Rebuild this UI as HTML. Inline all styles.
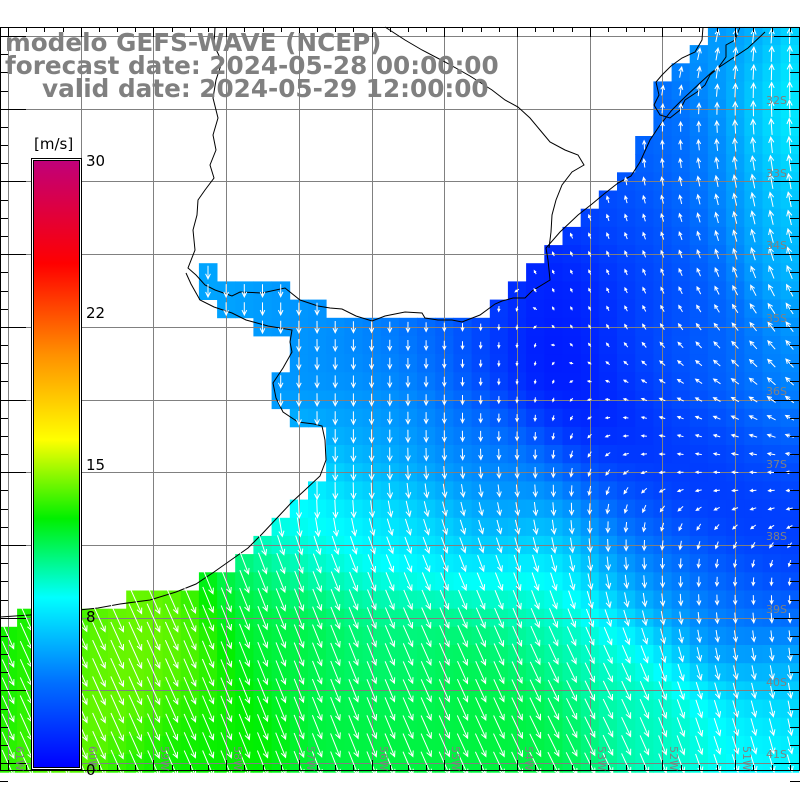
<!DOCTYPE html>
<html><head><meta charset="utf-8">
<style>
html,body{margin:0;padding:0;background:#fff;}
#w{position:relative;width:800px;height:800px;overflow:hidden;}
svg{position:absolute;left:0;top:0;}
</style></head>
<body><div id="w">
<svg id="s" width="800" height="800" xmlns="http://www.w3.org/2000/svg">
<defs>
<linearGradient id="cb" x1="0" y1="1" x2="0" y2="0">
<stop offset="0" stop-color="#0000ff"/>
<stop offset="0.14" stop-color="#0070ff"/>
<stop offset="0.28" stop-color="#00ffff"/>
<stop offset="0.41" stop-color="#00f000"/>
<stop offset="0.54" stop-color="#ffff00"/>
<stop offset="0.68" stop-color="#ff9000"/>
<stop offset="0.83" stop-color="#ff0000"/>
<stop offset="1" stop-color="#c0007a"/>
</linearGradient>
</defs>
<g id="cells"></g>
<g id="grid" stroke="#808080" stroke-width="1" fill="none"></g>
<g id="coast" stroke="#000" stroke-width="1" fill="none">
<polyline points="215,27 214,45 222,62 216,80 213,98 218,118 213,135 216,150 210,165 214,178 205,190 198,200 197,215 193,230 195,250 188,268 196,275 205,285 215,290 232,296 240,292 262,293 285,288 300,300 318,306 330,308 342,309 356,316 372,321 385,316 405,312 422,313 425,318 438,320 452,320 462,322 480,315 495,304 502,301 513,298 525,298 532,291 550,280 548,260 546,248 560,232 578,215 592,204 604,194 618,183 631,176 640,162 650,140 660,125 672,110 684,98 700,83 712,72 730,60 748,48 765,32"/>
<polyline points="186,273 191,284 200,300 214,307 232,313 246,320 268,326 292,330 290,342 292,352 283,368 273,383 276,398 283,412 298,422 314,424 322,426 325,440 326,460 320,476 305,490 292,502 277,518 262,534 248,548 231,560 214,572 196,584 176,592 150,600 120,604 98,608 60,612 30,615 0,617"/>
<polyline points="385,27 405,40 422,50 445,62 470,76 492,90 505,100 518,107 530,118 540,130 550,142 565,150 578,155 584,165 572,172 562,185 556,200 552,215 551,232 549,248"/>
<polyline points="703,27 702,40 695,52 682,58 671,66 662,75 656,82 659,95 654,105 660,115 670,118 680,110 685,100 697,92 705,85 710,75 718,68 726,57 726,45 735,40 740,27"/>
</g>
<g id="arrows" stroke="#fff" stroke-width="1" fill="none"></g>
<g id="ticks" stroke="#000" stroke-width="1"></g>
<g font-family="'DejaVu Sans','Liberation Sans',sans-serif" font-size="11" fill="#808080" id="labs"></g>
<rect x="33.5" y="160.5" width="46" height="607" fill="url(#cb)" stroke="#000" stroke-width="1"/>
<rect x="31.5" y="158.5" width="50" height="611" fill="none" stroke="#000" stroke-width="1"/>
<rect x="32.5" y="159.5" width="48" height="609" fill="none" stroke="#fff" stroke-width="1"/>
<g font-family="'DejaVu Sans','Liberation Sans',sans-serif" font-size="15" fill="#000">
<text x="34" y="149">[m/s]</text>
<text x="86" y="166">30</text>
<text x="86" y="318">22</text>
<text x="86" y="470">15</text>
<text x="86" y="622">8</text>
<text x="86" y="775">0</text>
</g>
<g font-family="'DejaVu Sans','Liberation Sans',sans-serif" font-weight="bold" font-size="24.7" fill="#808080">
<text x="5" y="51">modelo GEFS-WAVE (NCEP)</text>
<text x="5" y="74">forecast date: 2024-05-28 00:00:00</text>
<text x="42" y="97">valid date: 2024-05-29 12:00:00</text>
</g>
</svg>
</div>
<script>
(function(){
var NS="http://www.w3.org/2000/svg";
function el(t,a,p){var e=document.createElementNS(NS,t);for(var k in a)e.setAttribute(k,a[k]);p.appendChild(e);return e;}
var cells=document.getElementById('cells'),arrows=document.getElementById('arrows'),grid=document.getElementById('grid'),ticks=document.getElementById('ticks'),labs=document.getElementById('labs');
var C=18.18,X0=-1.1,Y0=26.9;
var rows=[[[708,800]],[[690,800]],[[672,800]],[[654,800]],[[654,800]],[[654,800]],[[636,800]],[[636,800]],[[618,800]],[[600,800]],[[582,800]],[[564,800]],[[546,800]],[[200,218],[528,800]],[[200,290],[510,800]],[[218,328],[491,800]],[[254,800]],[[290,800]],[[290,800]],[[272,800]],[[272,800]],[[290,800]],[[327,800]],[[327,800]],[[327,800]],[[308,800]],[[290,800]],[[272,800]],[[254,800]],[[236,800]],[[200,800]],[[127,800]],[[18,800]]];
var SP=[[540,350,0.5],[580,300,1],[600,420,1],[660,470,1.5],[720,520,1.5],[790,540,2],[780,470,3],[700,440,2.5],[780,380,5],[700,360,3.5],[650,330,2.5],[680,260,3],[780,250,6],[700,180,4],[620,220,2.5],[660,120,3.5],[720,60,5],[790,100,8],[780,180,7],[470,330,3],[400,350,4.5],[300,310,5],[220,290,5.5],[380,440,5.5],[470,450,4],[520,500,5],[620,520,3.5],[560,560,8],[540,620,9.5],[540,740,11],[620,660,9],[650,730,9],[760,740,8],[790,680,6.5],[760,620,4.5],[790,570,2],[650,570,5],[700,600,4.5],[470,700,11],[420,530,7.5],[320,530,8],[400,650,10],[280,620,11],[150,660,13.5],[100,660,14],[40,640,12],[200,740,12],[380,740,11]];
var DV=[[100,680,.45,1],[300,660,.4,1],[480,640,.45,1],[600,680,.5,1],[720,700,.35,1],[790,650,.1,1],[500,560,.4,1],[620,530,.1,1],[720,580,0,1],[300,400,0,1],[450,400,0,1],[250,300,0,1],[540,470,0,1],[650,440,-1,-0.2],[760,480,-1,0.1],[720,420,-1,-0.3],[720,360,-0.8,-0.8],[790,360,-0.7,-1],[650,300,-0.45,-1],[720,250,-0.3,-1],[780,200,-0.2,-1],[700,150,-0.25,-1],[780,100,0,-1],[680,80,0.35,-1]];
function gk(x,y,A,k,sg){var s=0,w=0;for(var i=0;i<A.length;i++){var dx=x-A[i][0],dy=y-A[i][1];var q=Math.exp(-(dx*dx+dy*dy)/(2*sg*sg))+1e-12;s+=q*A[i][k];w+=q;}return s/w;}
var cs=[[0,0,0,255],[0.14,0,112,255],[0.28,0,255,255],[0.41,0,240,0],[0.54,255,255,0],[0.68,255,144,0],[0.83,255,0,0],[1,192,0,122]];
function v2p(v){var t=[[0,0],[8,.28],[15,.51],[22,.76],[30,1]];for(var i=1;i<t.length;i++)if(v<=t[i][0]){var f=(v-t[i-1][0])/(t[i][0]-t[i-1][0]);return t[i-1][1]+f*(t[i][1]-t[i-1][1]);}return 1;}
function col(v){var p=v2p(Math.max(0,v));for(var i=1;i<cs.length;i++)if(p<=cs[i][0]){var f=(p-cs[i-1][0])/(cs[i][0]-cs[i-1][0]);var r=[1,2,3].map(function(j){return Math.round(cs[i-1][j]+f*(cs[i][j]-cs[i-1][j]));});return 'rgb('+r.join(',')+')';}return 'rgb(192,0,122)';}
var ad="";
for(var i=0;i<41;i++){var y=Y0+i*C;var cy=y+C/2;var rr=i<rows.length?rows[i]:[[0,800]];
for(var j=0;j<45;j++){var x=X0+j*C;var cx=x+C/2;var ok=false;for(var r=0;r<rr.length;r++)if(cx>=rr[r][0]&&cx<=rr[r][1])ok=true;if(!ok)continue;
var s=gk(cx,cy,SP,2,45);el('rect',{x:x.toFixed(1),y:y.toFixed(1),width:(C+0.4).toFixed(1),height:(C+0.4).toFixed(1),fill:col(s)},cells);
var u=gk(cx,cy,DV,2,50),v=gk(cx,cy,DV,3,50);var n=Math.sqrt(u*u+v*v)||1;u/=n;v/=n;var L=2.2*s+1;
var x1=cx-u*L/2,y1=cy-v*L/2,x2=cx+u*L/2,y2=cy+v*L/2;var h=Math.min(6,L*0.35+1);
var ca=Math.cos(0.45),sa=Math.sin(0.45);
var hx1=x2-h*(u*ca-v*sa),hy1=y2-h*(v*ca+u*sa),hx2=x2-h*(u*ca+v*sa),hy2=y2-h*(v*ca-u*sa);
ad+="M"+x1.toFixed(1)+" "+y1.toFixed(1)+"L"+x2.toFixed(1)+" "+y2.toFixed(1)+"M"+hx1.toFixed(1)+" "+hy1.toFixed(1)+"L"+x2.toFixed(1)+" "+y2.toFixed(1)+"L"+hx2.toFixed(1)+" "+hy2.toFixed(1);
}}
el('path',{d:ad},arrows);
var gd="";for(var k=0;k<11;k++){var gx=Math.round(8+72.7*k)+0.5;gd+="M"+gx+" 27V770";var gy=Math.round(36+72.7*k)+0.5;gd+="M0 "+gy+"H800";}
el('path',{d:gd},grid);
var td="M0 27.5H800M0.5 27V770M0 770.5H800M799.5 27V770";
for(var k=0;k<46;k++){var tx=Math.round(X0+C/2+k*C)+0.5;var big=((k)%4==0);td+="M"+tx+" 27V"+(big?37:32)+"M"+tx+" 770V"+(big?760:765);}
for(var k=0;k<42;k++){var ty=Math.round(Y0+C/2+k*C)+0.5;var big=((k)%4==0);td+="M0 "+ty+"H"+(big?26:8)+"M800 "+ty+"H"+(big?774:790);}
el('path',{d:td},ticks);
for(var k=0;k<10;k++){var t=el('text',{x:766,y:Math.round(36+72.7*k)+68},labs);t.textContent=(32+k)+"S";}
for(var k=0;k<11;k++){var lx=Math.round(8+72.7*k)+8;var t=el('text',{x:0,y:0,transform:"translate("+lx+",746) rotate(90)"},labs);t.textContent=(61-k)+"W";}
})();
</script>
</body></html>
